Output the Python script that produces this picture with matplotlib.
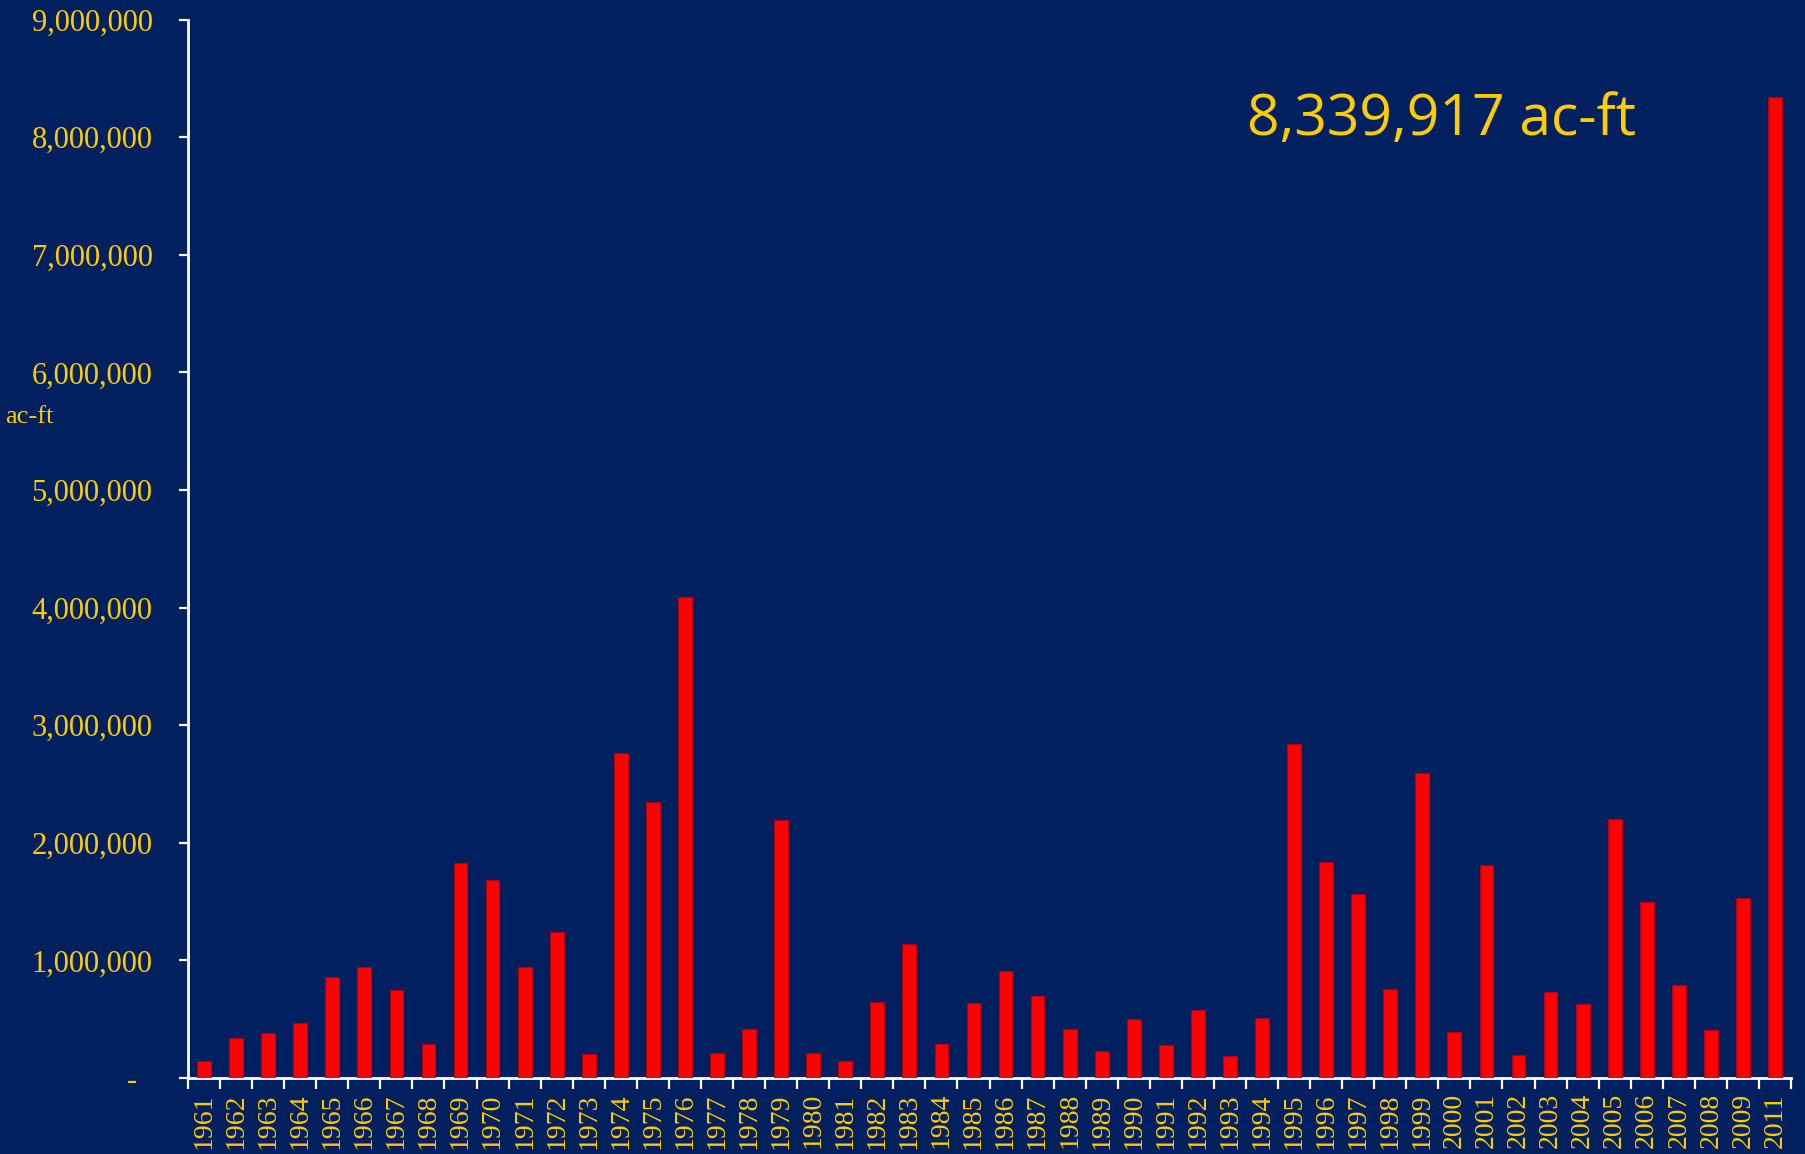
import matplotlib
matplotlib.use("Agg")
import matplotlib.pyplot as plt
from matplotlib.ticker import FuncFormatter, FixedLocator

BG = "#002060"
GOLD = "#FFCC00"
RED = "#FF0000"

years = [str(y) for y in range(1961, 2010)] + ["2011"]
volumes = [
    147000, 337000, 385000, 467000, 858000, 943000, 744000, 286000, 1829000, 1684000,
    943000, 1245000, 207000, 2765000, 2349000, 4090000, 209000, 413000, 2196000, 215000,
    144000, 643000, 1143000, 286000, 640000, 906000, 696000, 413000, 226000, 498000,
    283000, 580000, 184000, 509000, 2836000, 1837000, 1568000, 753000, 2596000, 393000,
    1814000, 198000, 727000, 628000, 2205000, 1500000, 790000, 405000, 1531000, 8339917,
]
peak_label = "8,339,917 ac-ft"

fig = plt.figure(figsize=(18.06, 11.54), dpi=100)
fig.patch.set_facecolor(BG)
ax = fig.add_axes([0.1041, 0.0659, 0.8876, 0.9171])
ax.set_facecolor(BG)

x = list(range(len(years)))
ax.bar(x, volumes, width=0.43, color=RED, edgecolor="#B00010", linewidth=0.8, zorder=3)

ax.set_xlim(-0.5, len(years) - 0.5)
ax.set_ylim(0, 9000000)

# spines
for s in ["top", "right"]:
    ax.spines[s].set_visible(False)
for s in ["left", "bottom"]:
    ax.spines[s].set_color("white")
    ax.spines[s].set_linewidth(2)

# y axis
ax.set_yticks(range(0, 9000001, 1000000))
ax.yaxis.set_major_formatter(FuncFormatter(lambda v, p: "-  " if v == 0 else f"{int(v):,}"))
ax.tick_params(axis="y", colors="white", length=6.5, width=1.6, direction="out", pad=19)
for lab in ax.get_yticklabels():
    lab.set_color(GOLD)
    lab.set_fontfamily("Liberation Serif")
    lab.set_fontsize(22)

# x axis: labels at centers, tick marks between categories
ax.set_xticks(x)
ax.set_xticklabels(years, rotation=90, fontfamily="Liberation Serif", fontsize=20, color=GOLD)
ax.tick_params(axis="x", which="major", length=0, pad=11)
ax.xaxis.set_minor_locator(FixedLocator([i - 0.5 for i in range(len(years) + 1)]))
ax.tick_params(axis="x", which="minor", colors="white", length=8, width=1.6, direction="out")

fig.text(0.003, 1 - 417 / 1154, "ac-ft", color=GOLD, fontsize=19,
         fontfamily="Liberation Serif", ha="left", va="center")

ax.text(0.782, 0.905, peak_label, transform=ax.transAxes, color=GOLD,
        fontsize=41, fontfamily="Open Sans", ha="center", va="center")

fig.savefig("out.png", dpi=100, facecolor=BG)
